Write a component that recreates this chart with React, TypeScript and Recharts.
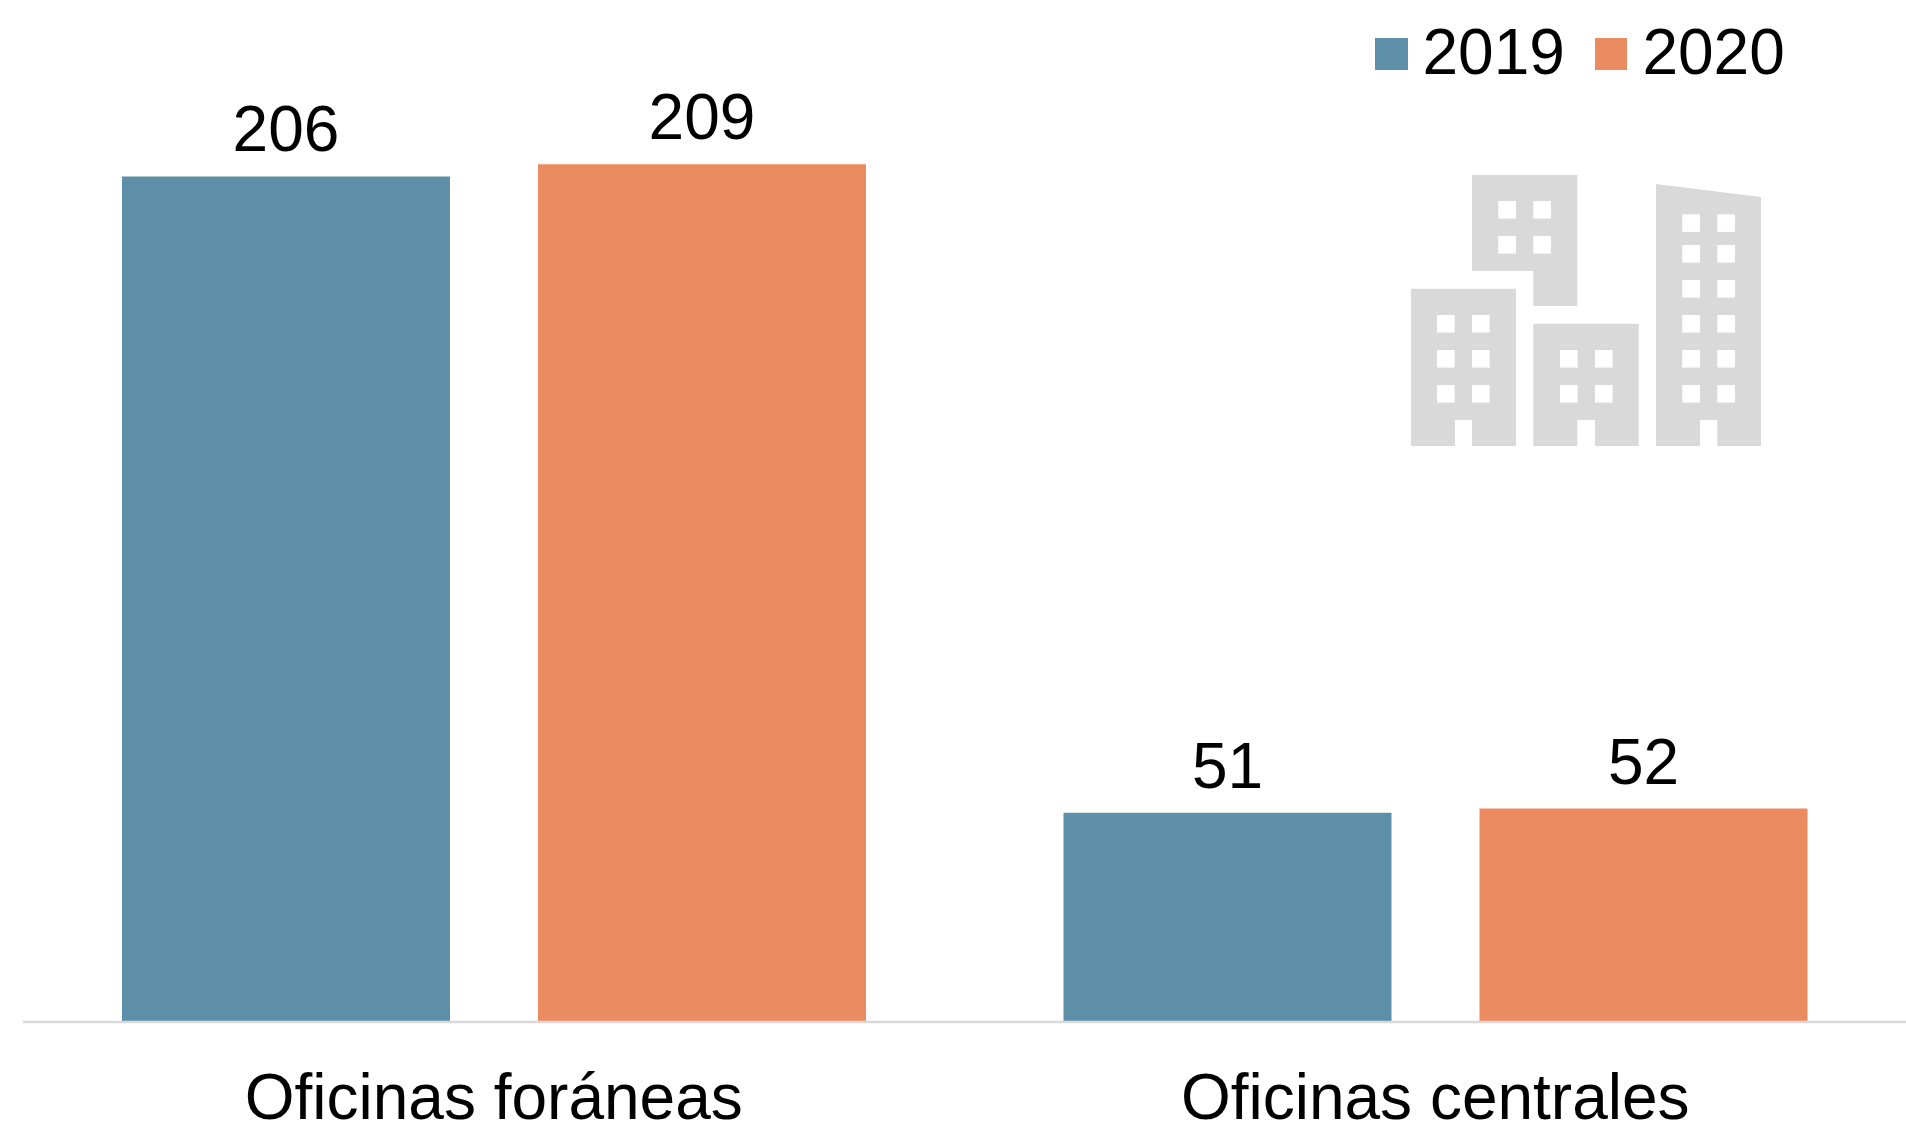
import React from 'react';
import { BarChart, Bar, XAxis, YAxis, Legend, LabelList } from 'recharts';

const categories = ['Oficinas foráneas', 'Oficinas centrales'];
const values2019 = [206, 51];
const values2020 = [209, 52];

const chartData = categories.map((name, i) => ({
  name,
  '2019': values2019[i],
  '2020': values2020[i],
}));

const FONT = '"Liberation Sans", Arial, sans-serif';
const BLUE = '#5D90A8';
const ORANGE = '#EB8B60';
const GREY = '#D9D9D9';

// Decorative building icon, in page pixels
const buildingPaths = [
  'M1472 175H1577.3V306H1533.3V271H1472Z',
  'M1411 288.7H1516V446H1472V420H1455V446H1411Z',
  'M1533.3 323.7H1638.7V446H1595V420H1577.3V446H1533.3Z',
  'M1656 184L1761 197V446H1717.3V420H1700V446H1656Z',
];
const windowGroups = [
  { xs: [1498.3, 1533.3], ys: [201, 236] },
  { xs: [1437, 1472], ys: [315, 350, 385] },
  { xs: [1560, 1595], ys: [350, 385] },
  { xs: [1682.3, 1717.3], ys: [214.3, 245, 280, 315, 350, 385] },
];

const BuildingIcon = () => (
  <svg width={1906} height={1123} style={{ position: 'absolute', left: 0, top: 0, pointerEvents: 'none' }}>
    {buildingPaths.map((d) => (
      <path key={d} d={d} fill={GREY} />
    ))}
    {windowGroups.map((g) =>
      g.xs.map((x) =>
        g.ys.map((y) => <rect key={`${x}-${y}`} x={x} y={y} width={17.6} height={17.6} fill="#fff" />)
      )
    )}
  </svg>
);

const LegendContent = ({ payload }: any) => (
  <div style={{ display: 'flex', alignItems: 'center', fontFamily: FONT, fontSize: 64, lineHeight: '74px', color: '#000' }}>
    {(payload || []).map((entry: any, i: number) => (
      <div key={entry.value} style={{ display: 'flex', alignItems: 'center', marginLeft: i === 0 ? 0 : 30 }}>
        <span style={{ display: 'block', width: 32.5, height: 32, background: entry.color, marginRight: 15, position: 'relative', top: 2 }} />
        <span>{entry.value}</span>
      </div>
    ))}
  </div>
);

export default function App() {
  return (
    <div style={{ position: 'absolute', left: 0, top: 0, width: 1906, height: 1123, background: '#fff', overflow: 'hidden' }}>
      <BarChart
        width={1906}
        height={1123}
        data={chartData}
        margin={{ top: 0, right: 0, bottom: 0, left: 23 }}
        barSize={328}
        barGap={88}
      >
        <XAxis
          dataKey="name"
          axisLine={{ stroke: GREY, strokeWidth: 2.5 }}
          tickLine={false}
          interval={0}
          height={101}
          tickMargin={46}
          tick={{ fontFamily: FONT, fontSize: 64, fill: '#000' }}
        />
        <YAxis hide domain={[0, 249]} />
        {/* zero height so the legend floats over the plot instead of shrinking it */}
        <Legend
          content={<LegendContent />}
          verticalAlign="top"
          wrapperStyle={{ left: 1375, top: 15, width: 'auto', height: 0 }}
        />
        <Bar dataKey="2019" fill={BLUE} isAnimationActive={false}>
          <LabelList dataKey="2019" position="top" offset={25} style={{ fontFamily: FONT, fontSize: 64, fill: '#000' }} />
        </Bar>
        <Bar dataKey="2020" fill={ORANGE} isAnimationActive={false}>
          <LabelList dataKey="2020" position="top" offset={25} style={{ fontFamily: FONT, fontSize: 64, fill: '#000' }} />
        </Bar>
      </BarChart>
      <BuildingIcon />
    </div>
  );
}
